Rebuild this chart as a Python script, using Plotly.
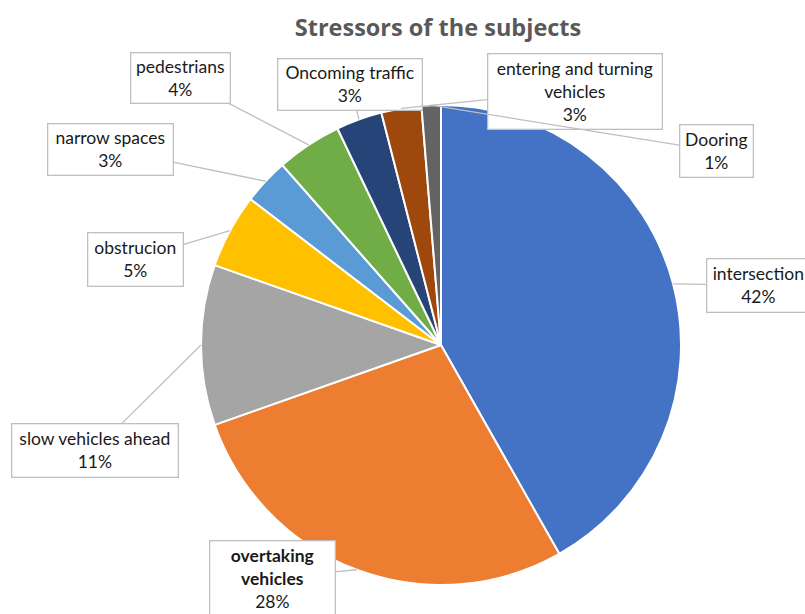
import math
import plotly.graph_objects as go

# ---- data ----
labels = ["intersection", "overtaking vehicles", "slow vehicles ahead", "obstrucion",
          "narrow spaces", "pedestrians", "Oncoming traffic",
          "entering and turning vehicles", "Dooring"]
values = [41.8, 27.8, 10.8, 5.0, 3.1, 4.4, 3.1, 2.7, 1.3]
colors = ["#4472C4", "#ED7D31", "#A5A5A5", "#FFC000", "#5B9BD5",
          "#70AD47", "#264478", "#9E480E", "#636363"]
box_text = ["intersection", "<b>overtaking<br>vehicles</b>", "slow vehicles ahead", "obstrucion",
            "narrow spaces", "pedestrians", "Oncoming traffic",
            "entering and turning<br>vehicles", "Dooring"]

# ---- layout (pixels) ----
W, H = 805, 614
CX, CY, R = 441, 345, 240
# label box centre and size (w, h)
boxes = [(758, 285, 104, 54), (272, 578, 126, 76), (95, 450, 167, 54), (135, 259, 96, 54),
         (110, 149, 126, 52), (180, 78, 100, 51), (350, 84, 145, 52),
         (575, 91, 175, 76), (716, 151, 74, 53)]

fig = go.Figure()
fig.add_trace(go.Pie(
    labels=labels, values=values, sort=False, direction="clockwise", rotation=0,
    marker=dict(colors=colors, line=dict(color="white", width=2)),
    textinfo="none", hoverinfo="label+percent", showlegend=False,
    domain=dict(x=[(CX - R) / W, (CX + R) / W], y=[1 - (CY + R) / H, 1 - (CY - R) / H]),
))
fig.add_trace(go.Scatter(x=[0, W], y=[0, H], mode="markers", marker=dict(opacity=0),
                         hoverinfo="skip", showlegend=False))

total = sum(values)
cum = 0.0
annotations = []
for i, v in enumerate(values):
    mid = (cum + v / 2) / total * 2 * math.pi
    cum += v
    tx = CX + R * math.sin(mid)
    ty = CY - R * math.cos(mid)
    bx, by, bw, bh = boxes[i]
    pct = round(v / total * 100)
    txt = f"{box_text[i]}<br>{pct}%"
    annotations.append(dict(
        x=tx, y=ty, xref="x", yref="y", ax=bx, ay=by, axref="x", ayref="y",
        text=txt, showarrow=True, arrowhead=0, arrowwidth=1.3, arrowcolor="#BFBFBF",
        bgcolor="white", bordercolor="#BFBFBF", borderwidth=1.3, borderpad=0,
        width=bw - 2, height=bh - 2, align="center", valign="middle",
        font=dict(family="Lato", size=17.5, color="#1a1a1a"),
    ))

fig.update_layout(
    width=W, height=H, margin=dict(l=0, r=0, t=0, b=0),
    paper_bgcolor="white", plot_bgcolor="white",
    xaxis=dict(range=[0, W], visible=False, fixedrange=True),
    yaxis=dict(range=[H, 0], visible=False, fixedrange=True),
    title=dict(text="<b>Stressors of the subjects</b>", x=438 / W, xanchor="center",
               y=1 - 28 / H, yanchor="middle",
               font=dict(family="Open Sans", size=23.5, color="#595959")),
    annotations=annotations,
)
fig.write_html("out.html")
